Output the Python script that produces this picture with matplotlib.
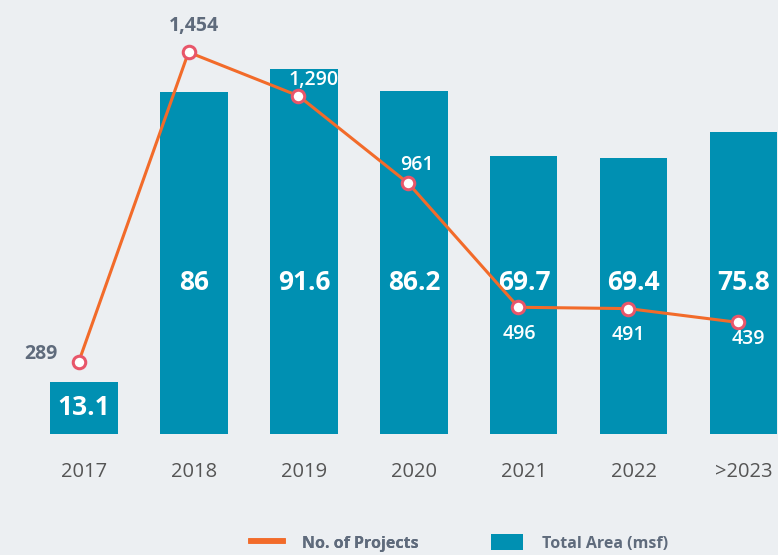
import numpy as np
import matplotlib.pyplot as plt
from matplotlib.lines import Line2D
from matplotlib.patches import Patch

# --- Data ---
years = ['2017', '2018', '2019', '2020', '2021', '2022', '>2023']
area_msf = [13.1, 86, 91.6, 86.2, 69.7, 69.4, 75.8]
projects = [289, 1454, 1290, 961, 496, 491, 439]
project_labels = ['289', '1,454', '1,290', '961', '496', '491', '439']

# --- Styles ---
bg = '#ECEFF2'
bar_color = '#0090B2'
line_color = '#F26B2A'
marker_edge = '#E8566A'
grey_text = '#5F6B7C'

plt.rcParams['font.family'] = ['Open Sans', 'DejaVu Sans']

fig = plt.figure(figsize=(7.78, 5.55), dpi=100, facecolor=bg)
ax = fig.add_axes([0, 0.218, 1, 0.782])
ax.set_facecolor(bg)

x = np.arange(len(years))
ax.bar(x, area_msf, width=0.61, color=bar_color, zorder=2)
ax.set_xlim(-0.764, 6.31)
ax.set_ylim(0, 109)

# bar values, white bold; short bars get the label in the middle
for xi, v in zip(x, area_msf):
    ax.text(xi, 38 if v > 30 else v / 2, f'{v:g}', ha='center', va='center',
            color='white', fontsize=19, fontweight='bold', zorder=5)

ax.set_xticks(x)
ax.set_xticklabels(years, fontsize=14.5, color='#555555')
ax.tick_params(axis='x', length=0, pad=20)
ax.set_yticks([])
for s in ax.spines.values():
    s.set_visible(False)

# secondary axis for project count
ax2 = ax.twinx()
ax2.set_ylim(20, 1650)
ax2.set_yticks([])
for s in ax2.spines.values():
    s.set_visible(False)
xl = x - 0.05
ax2.plot(xl, projects, color=line_color, lw=2.2, zorder=3)
ax2.plot(xl, projects, 'o', ms=9, mfc='white', mec=marker_edge, mew=2.2, zorder=4)

# line labels: (dx points, dy points, colour)
offsets = [(-27, 6, grey_text), (4, 19, grey_text), (11, 11.5, 'white'), (6, 13, 'white'),
           (1, -19, 'white'), (0, -19, 'white'), (7, -12, 'white')]
for xi, v, lab, (dx, dy, c) in zip(xl, projects, project_labels, offsets):
    ax2.annotate(lab, (xi, v), xytext=(dx, dy), textcoords='offset points',
                 ha='center', va='center', fontsize=14, color=c,
                 fontweight='bold' if c == grey_text else 'semibold', zorder=6)

leg_kw = dict(loc='center left', frameon=False, borderpad=0, borderaxespad=0,
              labelcolor=grey_text, handlelength=2.0, handleheight=1.1,
              handletextpad=1.2, prop={'weight': 'bold', 'size': 11.5})
leg1 = fig.legend([Line2D([0], [0], color=line_color, lw=4)], ['No. of Projects'],
                  bbox_to_anchor=(251 / 778, 12 / 555), **leg_kw)
fig.add_artist(leg1)
fig.legend([Patch(facecolor=bar_color)], ['Total Area (msf)'],
           bbox_to_anchor=(491 / 778, 12 / 555), **leg_kw)

fig.savefig('out.png', dpi=100, facecolor=bg)
